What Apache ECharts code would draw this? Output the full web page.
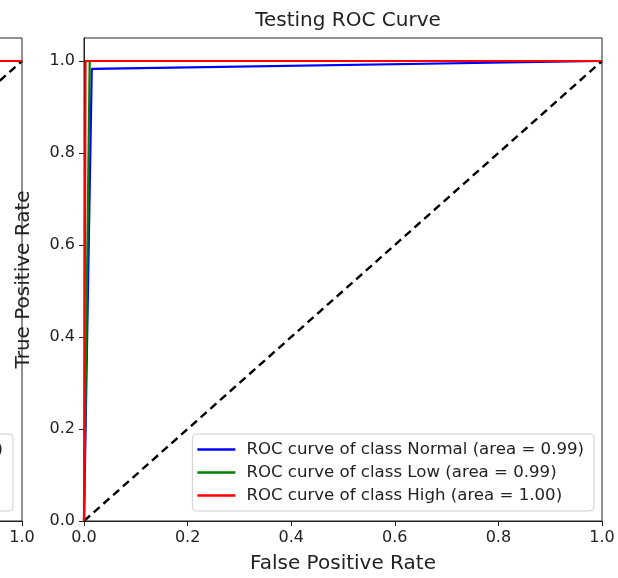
<!DOCTYPE html>
<html>
<head>
<meta charset="utf-8">
<script src="https://cdn.jsdelivr.net/npm/echarts@6/dist/echarts.min.js"></script>
<style>
  html, body { margin: 0; padding: 0; background: #fff; }
  #chart { width: 618px; height: 578px; }
</style>
</head>
<body>
<div id="chart"></div>
<script>
// Testing-set ROC curves (false positive rate, true positive rate)
const classNames = ['Normal', 'Low', 'High'];
const testAreas = ['0.99', '0.99', '1.00'];
const testFpr = [
  [0, 0.015, 1],
  [0, 0.011, 1],
  [0, 0.003, 1]
];
const testTpr = [
  [0, 0.983, 1],
  [0, 1.0, 1],
  [0, 1.0, 1]
];

// Training-set ROC curves (panel to the left, mostly outside the frame)
const trainAreas = ['1.00', '1.00', '1.00'];
const trainFpr = [
  [0, 0.0, 1],
  [0, 0.0, 1],
  [0, 0.0, 1]
];
const trainTpr = [
  [0, 1.0, 1],
  [0, 1.0, 1],
  [0, 1.0, 1]
];

// Chance diagonal
const chanceFpr = [0, 1];
const chanceTpr = [0, 1];

const xTicks = [0, 0.2, 0.4, 0.6, 0.8, 1.0];
const yTicks = [0, 0.2, 0.4, 0.6, 0.8, 1.0];

const colors = ['#0000ff', '#008000', '#ff0000'];
const font = 'DejaVu Sans';
const textColor = '#222';

function pairs(xs, ys) {
  return xs.map((x, i) => [x, ys[i]]);
}

function makeXAxis(gridIndex) {
  return {
    gridIndex: gridIndex,
    type: 'value',
    min: xTicks[0],
    max: xTicks[xTicks.length - 1],
    interval: 0.2,
    name: 'False Positive Rate',
    nameLocation: 'middle',
    nameGap: 33,
    nameTextStyle: { fontFamily: font, fontSize: 20, color: textColor },
    axisLine: { show: true, lineStyle: { color: '#222', width: 1 } },
    axisTick: { show: true, inside: false, length: 5, lineStyle: { color: '#222' } },
    axisLabel: {
      fontFamily: font, fontSize: 16, color: textColor, margin: 9,
      formatter: v => v.toFixed(1)
    },
    splitLine: { show: false }
  };
}

function makeYAxis(gridIndex) {
  return {
    gridIndex: gridIndex,
    type: 'value',
    min: yTicks[0],
    max: 1.05,
    interval: 0.2,
    name: 'True Positive Rate',
    nameLocation: 'middle',
    nameGap: 50,
    nameTextStyle: { fontFamily: font, fontSize: 20, color: textColor },
    axisLine: { show: true, lineStyle: { color: '#222', width: 1 } },
    axisTick: { show: true, inside: false, length: 5, lineStyle: { color: '#222' } },
    axisLabel: {
      fontFamily: font, fontSize: 16, color: textColor, margin: 9,
      showMaxLabel: false,
      formatter: v => v.toFixed(1)
    },
    splitLine: { show: false }
  };
}

const series = [];
const trainNames = classNames.map((c, i) => `ROC curve of class ${c} (area = ${trainAreas[i]})`);
const testNames = classNames.map((c, i) => `ROC curve of class ${c} (area = ${testAreas[i]})`);

function addPanel(gridIndex, names, fprs, tprs) {
  names.forEach((name, i) => {
    series.push({
      name: name,
      type: 'line',
      xAxisIndex: gridIndex,
      yAxisIndex: gridIndex,
      data: pairs(fprs[i], tprs[i]),
      symbol: 'none',
      lineStyle: { color: colors[i], width: 2.2 },
      itemStyle: { color: colors[i] },
      z: 3 + i
    });
  });
  series.push({
    type: 'line',
    xAxisIndex: gridIndex,
    yAxisIndex: gridIndex,
    data: pairs(chanceFpr, chanceTpr),
    symbol: 'none',
    lineStyle: { color: '#000', width: 2.4, type: [8, 5] },
    z: 2
  });
}

addPanel(0, trainNames, trainFpr, trainTpr);
addPanel(1, testNames, testFpr, testTpr);

function makeLegend(names, right) {
  return {
    data: names,
    orient: 'vertical',
    right: right,
    bottom: 67,
    icon: 'rect',
    itemWidth: 38,
    itemHeight: 2.5,
    itemGap: 6,
    padding: [7, 10, 7, 5],
    backgroundColor: 'rgba(255,255,255,0.85)',
    borderColor: '#d0d0d0',
    borderWidth: 1,
    borderRadius: 4,
    selectedMode: false,
    textStyle: { fontFamily: font, fontSize: 16.6, color: textColor, padding: [0, 0, 0, 6] }
  };
}

const gridBase = {
  top: 38, width: 518, height: 483, show: true,
  borderColor: '#222', borderWidth: 1, backgroundColor: 'transparent',
  containLabel: false, outerBoundsMode: 'none'
};

const chart = echarts.init(document.getElementById('chart'), null, { renderer: 'canvas' });
chart.setOption({
  animation: false,
  backgroundColor: '#fff',
  title: [
    {
      text: 'Training ROC Curve',
      left: -237, top: 6, textAlign: 'center',
      textStyle: { fontFamily: font, fontSize: 20, fontWeight: 'normal', color: textColor }
    },
    {
      text: 'Testing ROC Curve',
      left: 343, top: 6, textAlign: 'center',
      textStyle: { fontFamily: font, fontSize: 20, fontWeight: 'normal', color: textColor }
    }
  ],
  legend: [makeLegend(trainNames, 605), makeLegend(testNames, 24)],
  grid: [
    Object.assign({ left: -496 }, gridBase),
    Object.assign({ left: 84 }, gridBase)
  ],
  xAxis: [makeXAxis(0), makeXAxis(1)],
  yAxis: [makeYAxis(0), makeYAxis(1)],
  series: series
});
</script>
</body>
</html>
